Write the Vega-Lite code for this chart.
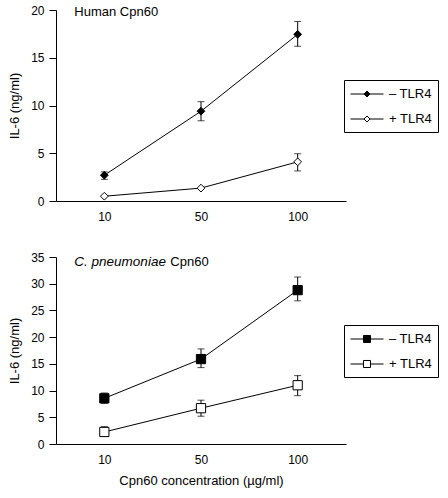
{
  "$schema": "https://vega.github.io/schema/vega-lite/v6.json",
  "padding": {"left": 8, "top": 4, "right": 0, "bottom": 5},
  "config": {
    "view": {"stroke": null},
    "font": "Liberation Sans",
    "axis": {
      "grid": false,
      "domainColor": "black",
      "tickColor": "black",
      "labelColor": "black",
      "titleColor": "black",
      "labelFontSize": 12,
      "titleFontSize": 13,
      "titleFontWeight": "normal",
      "labelFont": "Liberation Sans",
      "titleFont": "Liberation Sans"
    },
    "axisX": {"ticks": false, "labelAngle": 0, "labelPadding": 10, "titlePadding": 9},
    "axisY": {"tickSize": 7, "labelPadding": 5, "titlePadding": 9, "labelOverlap": false},
    "legend": {
      "strokeColor": "black",
      "labelFontSize": 13,
      "labelFont": "Liberation Sans",
      "labelColor": "black",
      "symbolStrokeColor": "black",
      "symbolStrokeWidth": 1,
      "symbolSize": 225,
      "symbolOffset": 9,
      "labelOffset": 14,
      "padding": 6,
      "rowPadding": 10,
      "labelExpr": "datum.label + '\u00a0\u00a0\u00a0\u00a0'"
    }
  },
  "spacing": 29,
  "resolve": {"scale": {"fill": "independent"}, "legend": {"fill": "independent"}},
  "vconcat": [
    {
      "width": 290,
      "height": 191,
      "data": {"values": [
        {"conc": "10", "series": "– TLR4", "mean": 2.7, "lo": 2.27, "hi": 3.05},
        {"conc": "50", "series": "– TLR4", "mean": 9.4, "lo": 8.4, "hi": 10.4},
        {"conc": "100", "series": "– TLR4", "mean": 17.45, "lo": 16.2, "hi": 18.8},
        {"conc": "10", "series": "+ TLR4", "mean": 0.5, "lo": null, "hi": null},
        {"conc": "50", "series": "+ TLR4", "mean": 1.35, "lo": null, "hi": null},
        {"conc": "100", "series": "+ TLR4", "mean": 4.1, "lo": 3.15, "hi": 4.95}
      ]},
      "encoding": {
        "x": {"field": "conc", "type": "ordinal", "sort": ["10", "50", "100"], "scale": {"type": "point", "padding": 0.5}, "axis": {"title": null}}
      },
      "layer": [
        {
          "mark": {"type": "rule", "color": "black", "strokeWidth": 1},
          "encoding": {
            "y": {"field": "lo", "type": "quantitative", "title": "IL-6 (ng/ml)", "scale": {"domain": [0, 20], "nice": false}, "axis": {"values": [0, 5, 10, 15, 20]}},
            "y2": {"field": "hi"}
          }
        },
        {
          "mark": {"type": "tick", "color": "black", "size": 7, "thickness": 1, "orient": "horizontal"},
          "encoding": {"y": {"field": "lo", "type": "quantitative", "title": "IL-6 (ng/ml)", "scale": {"domain": [0, 20], "nice": false}, "axis": {"values": [0, 5, 10, 15, 20]}}}
        },
        {
          "mark": {"type": "tick", "color": "black", "size": 7, "thickness": 1, "orient": "horizontal"},
          "encoding": {"y": {"field": "hi", "type": "quantitative", "title": "IL-6 (ng/ml)", "scale": {"domain": [0, 20], "nice": false}, "axis": {"values": [0, 5, 10, 15, 20]}}}
        },
        {
          "mark": {"type": "line", "color": "black", "strokeWidth": 1},
          "encoding": {
            "y": {"field": "mean", "type": "quantitative", "title": "IL-6 (ng/ml)", "scale": {"domain": [0, 20], "nice": false}, "axis": {"values": [0, 5, 10, 15, 20]}},
            "detail": {"field": "series"}
          }
        },
        {
          "mark": {"type": "point", "shape": "diamond", "size": 60, "filled": true, "opacity": 1, "stroke": "black", "strokeWidth": 1},
          "encoding": {
            "y": {"field": "mean", "type": "quantitative", "title": "IL-6 (ng/ml)", "scale": {"domain": [0, 20], "nice": false}, "axis": {"values": [0, 5, 10, 15, 20]}},
            "fill": {
              "field": "series", "type": "nominal",
              "scale": {"domain": ["– TLR4", "+ TLR4"], "range": ["black", "white"]},
              "legend": {
                "title": null, "orient": "none", "legendX": 288, "legendY": 70,
                "symbolType": "M-2.2,0L-0.4,0M0.4,0L2.2,0M0,-0.4L0.4,0L0,0.4L-0.4,0Z"
              }
            }
          }
        },
        {
          "data": {"values": [{"label": "Human Cpn60"}]},
          "mark": {"type": "text", "align": "left", "baseline": "middle", "dx": -30, "dy": 2, "fontSize": 13, "fontWeight": "normal", "fill": "black"},
          "encoding": {
            "x": {"datum": "10"},
            "y": {"datum": 20, "type": "quantitative", "title": "IL-6 (ng/ml)", "scale": {"domain": [0, 20], "nice": false}, "axis": {"values": [0, 5, 10, 15, 20]}},
            "text": {"field": "label"}
          }
        }
      ]
    },
    {
      "width": 290,
      "height": 187,
      "data": {"values": [
        {"conc": "10", "series": "– TLR4", "mean": 8.55, "lo": 7.6, "hi": 9.55},
        {"conc": "50", "series": "– TLR4", "mean": 15.9, "lo": 14.3, "hi": 17.8},
        {"conc": "100", "series": "– TLR4", "mean": 28.8, "lo": 26.8, "hi": 31.25},
        {"conc": "10", "series": "+ TLR4", "mean": 2.25, "lo": 1.45, "hi": 3.25},
        {"conc": "50", "series": "+ TLR4", "mean": 6.7, "lo": 5.2, "hi": 8.2},
        {"conc": "100", "series": "+ TLR4", "mean": 11.0, "lo": 9.05, "hi": 12.8}
      ]},
      "encoding": {
        "x": {"field": "conc", "type": "ordinal", "sort": ["10", "50", "100"], "scale": {"type": "point", "padding": 0.5}, "axis": {"title": "Cpn60 concentration (µg/ml)"}}
      },
      "layer": [
        {
          "mark": {"type": "rule", "color": "black", "strokeWidth": 1},
          "encoding": {
            "y": {"field": "lo", "type": "quantitative", "title": "IL-6 (ng/ml)", "scale": {"domain": [0, 35], "nice": false}, "axis": {"values": [0, 5, 10, 15, 20, 25, 30, 35]}},
            "y2": {"field": "hi"}
          }
        },
        {
          "mark": {"type": "tick", "color": "black", "size": 7, "thickness": 1, "orient": "horizontal"},
          "encoding": {"y": {"field": "lo", "type": "quantitative", "title": "IL-6 (ng/ml)", "scale": {"domain": [0, 35], "nice": false}, "axis": {"values": [0, 5, 10, 15, 20, 25, 30, 35]}}}
        },
        {
          "mark": {"type": "tick", "color": "black", "size": 7, "thickness": 1, "orient": "horizontal"},
          "encoding": {"y": {"field": "hi", "type": "quantitative", "title": "IL-6 (ng/ml)", "scale": {"domain": [0, 35], "nice": false}, "axis": {"values": [0, 5, 10, 15, 20, 25, 30, 35]}}}
        },
        {
          "mark": {"type": "line", "color": "black", "strokeWidth": 1},
          "encoding": {
            "y": {"field": "mean", "type": "quantitative", "title": "IL-6 (ng/ml)", "scale": {"domain": [0, 35], "nice": false}, "axis": {"values": [0, 5, 10, 15, 20, 25, 30, 35]}},
            "detail": {"field": "series"}
          }
        },
        {
          "mark": {"type": "point", "shape": "square", "size": 85, "filled": true, "opacity": 1, "stroke": "black", "strokeWidth": 1},
          "encoding": {
            "y": {"field": "mean", "type": "quantitative", "title": "IL-6 (ng/ml)", "scale": {"domain": [0, 35], "nice": false}, "axis": {"values": [0, 5, 10, 15, 20, 25, 30, 35]}},
            "fill": {
              "field": "series", "type": "nominal",
              "scale": {"domain": ["– TLR4", "+ TLR4"], "range": ["black", "white"]},
              "legend": {
                "title": null, "orient": "none", "legendX": 288, "legendY": 68,
                "symbolType": "M-2.2,0L-0.47,0M0.47,0L2.2,0M-0.47,-0.47L0.47,-0.47L0.47,0.47L-0.47,0.47Z"
              }
            }
          }
        },
        {
          "data": {"values": [{"label": "C. pneumoniae"}]},
          "mark": {"type": "text", "align": "left", "baseline": "middle", "dx": -30, "dy": 5, "fontSize": 13.5, "fontStyle": "italic", "fontWeight": "normal", "fill": "black"},
          "encoding": {
            "x": {"datum": "10"},
            "y": {"datum": 35, "type": "quantitative", "title": "IL-6 (ng/ml)", "scale": {"domain": [0, 35], "nice": false}, "axis": {"values": [0, 5, 10, 15, 20, 25, 30, 35]}},
            "text": {"field": "label"}
          }
        },
        {
          "data": {"values": [{"label": "Cpn60"}]},
          "mark": {"type": "text", "align": "left", "baseline": "middle", "dx": 66, "dy": 5, "fontSize": 13, "fontWeight": "normal", "fill": "black"},
          "encoding": {
            "x": {"datum": "10"},
            "y": {"datum": 35, "type": "quantitative", "title": "IL-6 (ng/ml)", "scale": {"domain": [0, 35], "nice": false}, "axis": {"values": [0, 5, 10, 15, 20, 25, 30, 35]}},
            "text": {"field": "label"}
          }
        }
      ]
    }
  ]
}
